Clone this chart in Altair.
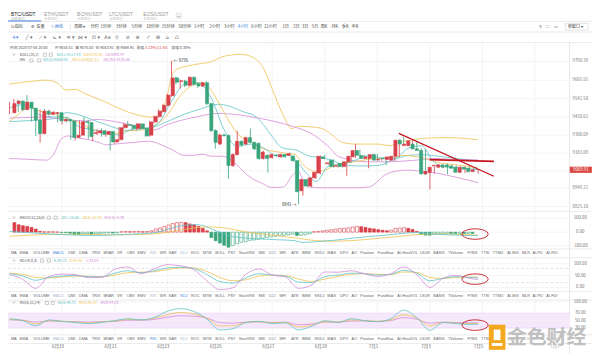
import altair as alt
import pandas as pd
import numpy as np

W, H = 592, 348
SX, SY = W / 600.0, H / 356.0
def X(x): return round(x * SX, 2)
def Y(y): return round(y * SY, 2)

RED, GREEN = "#d8404a", "#3aa57c"
TEAL, YEL, PUR = "#5cc4c8", "#efbf4f", "#d48ad8"
FONT = "Noto Sans CJK SC"

# ---------------- candles (4h, 2020-06-17 00:00 .. 2020-07-04 20:00) ----------------
OPEN = [9449,9510,9527,9470,9520,9480,9400,9310,9460,9440,9444,9450,9395,9405,9395,9285,9300,9390,9385,9312,
        9315,9330,9305,9325,9255,9270,9350,9370,9365,9345,9375,9345,9300,9388,9424,9456,9499,9563,9681,9658,
        9660,9632,9685,9642,9627,9649,9510,9331,9241,9302,9298,9098,9171,9259,9241,9284,9252,9246,9145,9166,
        9151,9168,9156,9171,9166,9160,9130,8930,9005,8962,9016,9048,9156,9111,9134,9093,9113,9091,9123,9156,
        9198,9166,9145,9145,9171,9136,9147,9138,9134,9160,9267,9231,9231,9241,9209,9198,9042,9053,9095,9087,
        9102,9102,9095,9087,9053,9087,9080,9058.51]
HIGH = [9520,9540,9535,9530,9567,9490,9410,9470,9475,9470,9460,9455,9410,9420,9400,9310,9400,9420,9400,9330,
        9340,9345,9335,9330,9290,9355,9380,9395,9370,9380,9380,9350,9395,9430,9473,9505,9575,9795,9690,9670,
        9668,9690,9690,9650,9655,9660,9515,9340,9310,9310,9305,9180,9330,9265,9290,9345,9258,9250,9195,9172,
        9178,9175,9178,9176,9185,9166,9135,9010,9010,9020,9058,9165,9170,9125,9140,9105,9118,9128,9165,9241,
        9205,9170,9160,9176,9176,9146,9150,9160,9165,9272,9289,9248,9268,9260,9214,9205,9065,9092,9108,9106,
        9110,9106,9100,9092,9092,9092,9085,9075.00]
LOW = [9440,9500,9455,9460,9470,9390,9295,9250,9430,9430,9435,9385,9370,9385,9270,9265,9290,9370,9275,9260,
       9300,9290,9290,9198,9245,9265,9340,9355,9335,9335,9340,9290,9290,9380,9415,9450,9490,9555,9640,9610,
       9620,9625,9630,9615,9620,9500,9320,9210,9235,9290,9010,9090,9165,9225,9235,9245,9200,9135,9138,9050,
       9145,9158,9150,9150,9160,9125,8841,8898,8955,8955,9010,9040,9140,9100,9085,9085,9085,9030,9118,9150,
       9160,9138,9080,9140,9128,9130,9100,9133,9128,9155,9236,9226,9225,9205,9190,9035,8940,9045,9085,9080,
       9040,9085,9075,9048,9048,9070,9052,9043.91]
CLOSE = [9510,9527,9470,9520,9480,9400,9310,9460,9440,9452,9450,9395,9405,9395,9285,9300,9390,9385,9290,9318,
         9330,9305,9325,9255,9270,9350,9370,9365,9345,9375,9345,9295,9388,9424,9460,9499,9567,9681,9653,9662,
         9632,9685,9638,9627,9649,9510,9331,9252,9301,9298,9098,9171,9259,9235,9284,9252,9209,9145,9188,9145,
         9171,9164,9171,9156,9177,9130,8924,9005,8962,9016,9053,9160,9145,9116,9091,9097,9091,9123,9160,9198,
         9166,9145,9156,9171,9134,9140,9143,9156,9160,9267,9241,9241,9263,9209,9198,9042,9059,9087,9100,9102,
         9087,9091,9080,9053,9087,9074,9057,9069.91]

# ---------------- overlay lines ----------------
MA5_I = [0,2,4,7,10,13,16,19,22,25,28,31,34,37,40,43,46,49,52,55,58,61,64,66,68,70,73,76,79,82,85,88,91,94,97,100,103,105,107]
MA5_V = [9480,9500,9501,9434,9422,9419,9355,9337,9314,9301,9340,9345,9382,9526,9639,9649,9551,9338,9225,9240,9216,9163,9168,
         9112,9040,8992,9098,9108,9134,9165,9149,9147,9213,9230,9119,9087,9083,9077,9069.89]
MA10_I = [0,1.9,4.1,6.3,8.6,10.8,13,15.2,17.4,19.7,21.9,24.1,26.3,28.6,30.8,33,34.1,36.3,39.3,41.5,43.7,45.9,48.1,50.4,52.6,
          54.8,57,59.3,61.5,63.7,65.1,67.1,70,72.2,74.4,76.6,78.8,81.7,84.7,87.6,89.9,92.1,94.3,97.3,99.7,104.1,107]
MA10_V = [9392,9434,9488,9467,9445,9434,9413,9392,9359,9331,9316,9310,9327,9331,9338,9360,9381,9445,9574,9627,9649,9606,9499,
          9381,9295,9263,9220,9198,9188,9177,9173,9102,9059,9070,9102,9113,9123,9138,9145,9151,9166,9160,9151,9123,9110,9095,9082.12]
MA30_I = [0,4,8,11,14,17.5,20,22,26,30,33,36,43,47.5,52.6,57,62,65.6,68.6,73,75.2,81.9,86.3,92,97.4,102,107]
MA30_V = [9413,9418,9420,9410,9400,9395,9405,9400,9380,9355,9335,9370,9424,9445,9434,9413,9381,9350,9316,9220,9156,9123,9123,
          9132,9145,9138,9135.66]
MID_I = [0,5,10.8,13,16,19,21.9,24.1,26.3,28.6,30.8,33,36,40,44,47.5,50,53,56.4,58,60,62.3,65.6,68,71,73.5,76,80,84,88,91,94,98,102,107]
MID_V = [9390,9398,9413,9450,9434,9402,9372,9349,9333,9331,9344,9355,9390,9440,9478,9505,9495,9460,9420,9370,9290,9215,9200,
         9165,9150,9135,9105,9095,9098,9140,9165,9170,9160,9145,9127.43]
UB_I = [0,4,8.5,10.8,13,15,17.4,22,26,31,33,34,35,36,37,38,40,43,46,49,53,55,58,60,62.3,64.5,66,71,73,76,79,84,87,88.6,91,94,99.7,107]
UB_V = [9640,9655,9666,9649,9600,9605,9574,9520,9466,9424,9419,9440,9480,9560,9690,9735,9756,9773,9788,9825,9838,9825,9745,
        9606,9445,9344,9359,9348,9316,9252,9241,9241,9230,9252,9263,9278,9284,9270.08]
LB_I = [0,4,8.6,10,12,13.5,15,17.5,21,22,24,28.5,32,35,37.5,39.7,42,44,46.3,48.5,50.8,53,55.2,57.4,60,62.5,64.8,66,67,68.4,72,
        78,82,86,88,91,93,95.5,98,102,107]
LB_V = [9145,9140,9134,9170,9280,9295,9284,9274,9246,9235,9241,9252,9260,9231,9198,9166,9166,9173,9160,9160,9134,9070,9016,8984,
        8952,8955,9040,9060,9000,8955,8950,8950,8955,9040,9060,9068,9063,9055,9045,9020,8983.97]

# red trend lines drawn on the chart
TREND1_I, TREND1_V = [88.9, 110.6], [9312, 9027]
TREND2_I, TREND2_V = [95.9, 110.6], [9138, 9126]

# ---------------- MACD(12,26,9) ----------------
MACD_HIST = [70,54,47,42,35,23,6,2,2,2,1,-3,-4,-8,-16,-16,-12,-10,-14,-12,-10,-7,-5,-7,-5,3,4,3,4,5,3,4,10,23,30,42,52,63,70,72,
             70,60,54,42,28,10,-40,-63,-80,-96,-110,-98,-85,-75,-70,-60,-57,-52,-45,-40,-35,-30,-25,-23,-20,-15,-25,-23,-20,-12,
             3,5,10,14,18,22,26,28,32,38,42,40,35,28,24,18,14,10,15,28,30,32,28,20,5,-15,-22,-22,-18,-14,-12,-10,-10,-11,-9,-10,-9,-9.39]
DIF_I = [0,5,10,15,20,25,30,33,36,39,42,44,46,48,50,53,57,61,65,67,70,74,78,82,86,90,93,96,100,104,107]
DIF_V = [5,-5,-15,-22,-25,-18,-12,-5,20,45,55,50,25,0,-25,-40,-50,-55,-62,-75,-70,-60,-45,-32,-22,-8,-3,-12,-20,-24,-25.68]
DEA_I = [0,5,10,15,20,25,30,33,36,39,42,45,48,51,54,58,62,66,70,74,78,82,86,90,94,98,102,107]
DEA_V = [-30,-22,-16,-15,-18,-20,-16,-12,-2,15,30,38,35,20,2,-15,-30,-45,-62,-66,-62,-52,-40,-28,-15,-12,-16,-20.79]

# ---------------- KDJ(9,3,3) and RSI(6,12,24) ----------------
OSC_I = [0,3,6,9,12,15,18,21,24,27,30,33,36,39,42,45,48,51,54,57,60,63,66,69,72,75,78,81,84,87,90,93,96,99,102,105,107]
K_V = [58,48,30,42,48,50,45,44,60,70,62,70,82,85,80,55,25,18,40,58,52,48,22,20,45,52,60,58,52,55,72,60,28,38,45,42,39.71]
D_V = [60,55,42,40,44,48,47,45,52,62,64,66,75,82,82,68,42,28,32,48,52,50,35,25,35,46,55,58,55,54,65,63,42,38,42,44,42.90]
J_V = [54,34,-4,46,56,54,41,42,76,86,58,78,96,91,76,29,-9,-2,56,78,52,44,-4,10,65,64,70,58,46,57,86,54,0,38,51,38,33.54]
RSI1_V = [55,50,36,52,48,45,42,45,50,55,52,58,75,82,75,55,25,28,45,48,42,44,25,35,50,45,55,50,47,55,78,58,24,45,42,40,40.71]
RSI2_V = [53,51,41,50,48,46,44,46,49,53,52,56,66,72,68,57,36,36,45,47,44,45,33,38,47,46,52,50,48,52,66,57,36,45,43,42,41.87]
RSI3_V = [52,51,46,49,48,47,46,47,48,51,51,53,59,63,62,57,45,43,46,47,45,46,39,41,46,46,49,49,48,50,58,54,43,46,45,44,44.03]

# ---------------- axes ----------------
PRICE_TICKS = [9790.39, 9665.55, 9542.50, 9420.62, 9300.09, 9181.09, 8949.22, 8825.10]
PRICE_GRID = [9790.39, 9665.55, 9542.50, 9420.62, 9300.09, 9181.09, 9063.0, 8949.22, 8825.10]
LAST_PRICE = 9069.91
MACD_TICKS, MACD_LABELS = [100, 0, -100], ["100.00", "0.00", "-100.00"]
KDJ_TICKS, KDJ_LABELS = [100, 50, 0], ["100.00", "50.00", "0.00"]
RSI_TICKS, RSI_LABELS = [100, 70, 50, 30], ["100.00", "70.00", "50.00", "30.00"]
DATE_TICKS = [12, 24, 36, 48, 60, 72, 84, 96, 108, 120]
DATE_LABELS = ["6月19", "6月21", "6月23", "6月25", "6月27", "6月29", "7月1", "7月3", "7月5", "7月7"]

TAB_WORDS = ["MA","EMA","VOLUME","MACD","DMI","DMA","TRIX","BRAR","VR","OBV","EMV","RSI","WR","SAR","KDJ","ROC","MTM",
             "BOLL","PSY","StochRSI","SMI","CCI","MFI","ATR","BBW","SKDJ","BIAS","DPO","AO","Position","Fundflow",
             "AI-HeatVOL","LSUR","BASIS","TVolume","FTBS","TTSI","TTMU","AI-BGI","MLR","AI-PD","AI-FDI"]
TAB_LEFT = [3,12,26,46,62,73,86,98,112,122,133,146,156,165,177,188,200,213,226,237,257,268,279,291,302,315,328,341,353,362,
            380,400,423,437,452,472,486,498,513,528,539,553]

# ---------------- scales ----------------
xs = alt.Scale(domain=[0, 100], range=[X(1.5), X(451.5)], nice=False, zero=False)
ps = alt.Scale(domain=[8825.10, 9790.39], range=[Y(203.5), Y(53)], nice=False, zero=False)
ms = alt.Scale(domain=[-100, 100], range=[Y(244.2), Y(215.8)], nice=False, zero=False)
ks = alt.Scale(domain=[0, 100], range=[Y(287.3), Y(262.7)], nice=False, zero=False)
rs = alt.Scale(domain=[0, 100], range=[Y(341.1), Y(302.4)], nice=False, zero=False)

def xe(f="i"):
    return alt.X(f + ":Q", scale=xs, axis=None)

def ye(f, sc):
    return alt.Y(f + ":Q", scale=sc, axis=None)

layers = []

def pix_text(rows, size, align="left", weight="normal", font=FONT, opacity=1.0):
    d = pd.DataFrame(rows, columns=["x", "y", "t", "c"])
    d["x"] = d["x"].map(X)
    d["y"] = d["y"].map(Y)
    return alt.Chart(d).mark_text(align=align, baseline="middle", fontSize=size, font=font,
                                  fontWeight=weight, opacity=opacity).encode(
        x=alt.X("x:Q", scale=None, axis=None), y=alt.Y("y:Q", scale=None, axis=None),
        text="t:N", color=alt.Color("c:N", scale=None))

def pix_rules(rows, color, width=0.8, dash=None):
    d = pd.DataFrame(rows, columns=["x", "y", "x2", "y2"])
    for k, f in (("x", X), ("x2", X), ("y", Y), ("y2", Y)):
        d[k] = d[k].map(f)
    kw = dict(color=color, strokeWidth=width)
    if dash:
        kw["strokeDash"] = dash
    return alt.Chart(d).mark_rule(**kw).encode(
        x=alt.X("x:Q", scale=None, axis=None), y=alt.Y("y:Q", scale=None, axis=None),
        x2="x2:Q", y2="y2:Q")

def pix_rects(rows):
    d = pd.DataFrame(rows, columns=["x", "y", "x2", "y2", "c"])
    for k, f in (("x", X), ("x2", X), ("y", Y), ("y2", Y)):
        d[k] = d[k].map(f)
    return alt.Chart(d).mark_rect().encode(
        x=alt.X("x:Q", scale=None, axis=None), y=alt.Y("y:Q", scale=None, axis=None),
        x2="x2:Q", y2="y2:Q", color=alt.Color("c:N", scale=None))

# ---------- frame lines ----------
layers.append(pix_rules([(0, 11.5, 600, 11.5), (0, 22.5, 600, 22.5), (0, 33.5, 600, 33.5),
                         (0, 208.5, 600, 208.5), (0, 247.5, 600, 247.5), (0, 256.5, 600, 256.5),
                         (0, 291.5, 600, 291.5), (0, 300.5, 600, 300.5), (0, 336.5, 600, 336.5),
                         (0, 345.5, 600, 345.5)], "#e6e6e6", 0.8))
layers.append(pix_rules([(577, 33.5, 577, 356)], "#e0e0e0", 0.8))

# ---------- grids ----------
dates_df = pd.DataFrame({"i": DATE_TICKS, "lab": DATE_LABELS})
for top, bot in ((34, 208), (209, 247), (257, 291), (301, 336)):
    layers.append(alt.Chart(dates_df).mark_rule(color="#f1f1f1", strokeWidth=0.8).encode(
        x=xe(), y=alt.value(Y(top)), y2=alt.value(Y(bot))))
layers.append(alt.Chart(pd.DataFrame({"p": PRICE_GRID})).mark_rule(color="#f1f1f1", strokeWidth=0.8).encode(
    y=ye("p", ps), x=alt.value(0), x2=alt.value(X(577))))
layers.append(alt.Chart(pd.DataFrame({"v": MACD_TICKS})).mark_rule(color="#f1f1f1", strokeWidth=0.8).encode(
    y=ye("v", ms), x=alt.value(0), x2=alt.value(X(577))))
layers.append(alt.Chart(pd.DataFrame({"v": KDJ_TICKS})).mark_rule(color="#f1f1f1", strokeWidth=0.8).encode(
    y=ye("v", ks), x=alt.value(0), x2=alt.value(X(577))))
layers.append(alt.Chart(pd.DataFrame({"v": [80, 20]})).mark_rule(color="#d6d6d6", strokeWidth=0.7, strokeDash=[3, 2]).encode(
    y=ye("v", ks), x=alt.value(0), x2=alt.value(X(577))))
# RSI band 30-70
layers.append(alt.Chart(pd.DataFrame({"a": [70], "b": [30]})).mark_rect(color="#f5e8fc").encode(
    y=ye("a", rs), y2="b:Q", x=alt.value(0), x2=alt.value(X(577))))
layers.append(alt.Chart(pd.DataFrame({"v": [70, 30]})).mark_rule(color="#ead2f5", strokeWidth=0.7).encode(
    y=ye("v", rs), x=alt.value(0), x2=alt.value(X(577))))
layers.append(alt.Chart(pd.DataFrame({"v": [100, 50]})).mark_rule(color="#f1f1f1", strokeWidth=0.8).encode(
    y=ye("v", rs), x=alt.value(0), x2=alt.value(X(577))))

# ---------- price panel ----------
def line_layer(I, V, color, sc, width=0.8):
    d = pd.DataFrame({"i": I, "v": V})
    return alt.Chart(d).mark_line(color=color, strokeWidth=width, interpolate="monotone").encode(
        x=xe(), y=ye("v", sc))

layers.append(line_layer(UB_I, UB_V, YEL, ps))
layers.append(line_layer(LB_I, LB_V, PUR, ps))
layers.append(line_layer(MID_I, MID_V, TEAL, ps))
layers.append(line_layer(MA30_I, MA30_V, PUR, ps))
layers.append(line_layer(MA10_I, MA10_V, YEL, ps))
layers.append(line_layer(MA5_I, MA5_V, TEAL, ps))

cd = pd.DataFrame({"i": range(len(CLOSE)), "o": OPEN, "h": HIGH, "l": LOW, "c": CLOSE})
cd["col"] = np.where(cd["c"] >= cd["o"], RED, GREEN)
layers.append(alt.Chart(cd).mark_rule(strokeWidth=0.8).encode(
    x=xe(), y=ye("l", ps), y2="h:Q", color=alt.Color("col:N", scale=None)))
layers.append(alt.Chart(cd).mark_bar(width=3.2, strokeWidth=0.6).encode(
    x=xe(), y=ye("o", ps), y2="c:Q", color=alt.Color("col:N", scale=None),
    stroke=alt.Stroke("col:N", scale=None)))

# trend lines
layers.append(alt.Chart(pd.DataFrame({"i": TREND1_I, "v": TREND1_V})).mark_line(color="#c3161f", strokeWidth=1.3).encode(
    x=xe(), y=ye("v", ps)))
layers.append(alt.Chart(pd.DataFrame({"i": TREND2_I, "v": TREND2_V})).mark_line(color="#c3161f", strokeWidth=1.8).encode(
    x=xe(), y=ye("v", ps)))

# extreme labels
layers.append(alt.Chart(pd.DataFrame({"i": [37], "v": [9795], "t": ["← 9795"]})).mark_text(
    align="left", baseline="middle", fontSize=4.3, dx=2, color="#333", font=FONT).encode(
    x=xe(), y=ye("v", ps), text="t:N"))
layers.append(alt.Chart(pd.DataFrame({"i": [66], "v": [8841], "t": ["8841 →"]})).mark_text(
    align="right", baseline="middle", fontSize=4.3, dx=-2, dy=1, color="#333", font=FONT).encode(
    x=xe(), y=ye("v", ps), text="t:N"))

# price axis labels
layers.append(alt.Chart(pd.DataFrame({"p": PRICE_TICKS, "t": [f"{p:.2f}" for p in PRICE_TICKS]})).mark_text(
    align="center", baseline="middle", fontSize=4.4, color="#777", font=FONT).encode(
    x=alt.value(X(588)), y=ye("p", ps), text="t:N"))
layers.append(alt.Chart(pd.DataFrame({"p": [LAST_PRICE]})).mark_point(
    shape="M -1 -0.28 L 1 -0.28 L 1 0.28 L -1 0.28 Z", filled=True, opacity=1, color="#d9453f", size=500).encode(
    x=alt.value(X(588.5)), y=ye("p", ps)))
layers.append(alt.Chart(pd.DataFrame({"p": [LAST_PRICE], "t": [f"{LAST_PRICE:.2f}"]})).mark_text(
    align="center", baseline="middle", fontSize=4.4, color="white", font=FONT).encode(
    x=alt.value(X(588.5)), y=ye("p", ps), text="t:N"))

# ---------- MACD panel ----------
md = pd.DataFrame({"i": range(len(MACD_HIST)), "v": MACD_HIST})
prev = md["v"].shift(1).fillna(md["v"])
md["col"] = np.where(md["v"] >= 0, RED, GREEN)
md["fill"] = np.where(md["v"] > prev, "white", md["col"])
md["z"] = 0
layers.append(alt.Chart(md).mark_bar(width=3.0, strokeWidth=0.6).encode(
    x=xe(), y=ye("z", ms), y2="v:Q", fill=alt.Fill("fill:N", scale=None), stroke=alt.Stroke("col:N", scale=None)))
layers.append(line_layer(DEA_I, DEA_V, YEL, ms))
layers.append(line_layer(DIF_I, DIF_V, TEAL, ms))
layers.append(alt.Chart(pd.DataFrame({"v": MACD_TICKS, "t": MACD_LABELS})).mark_text(
    align="center", baseline="middle", fontSize=4.4, color="#777", font=FONT).encode(
    x=alt.value(X(588)), y=ye("v", ms), text="t:N"))

# ---------- KDJ panel ----------
layers.append(line_layer(OSC_I, D_V, YEL, ks))
layers.append(line_layer(OSC_I, K_V, TEAL, ks))
layers.append(line_layer(OSC_I, J_V, PUR, ks))
layers.append(alt.Chart(pd.DataFrame({"v": KDJ_TICKS, "t": KDJ_LABELS})).mark_text(
    align="center", baseline="middle", fontSize=4.4, color="#777", font=FONT).encode(
    x=alt.value(X(588)), y=ye("v", ks), text="t:N"))

# ---------- RSI panel ----------
layers.append(line_layer(OSC_I, RSI3_V, PUR, rs))
layers.append(line_layer(OSC_I, RSI2_V, YEL, rs))
layers.append(line_layer(OSC_I, RSI1_V, TEAL, rs))
layers.append(alt.Chart(pd.DataFrame({"v": RSI_TICKS, "t": RSI_LABELS})).mark_text(
    align="center", baseline="middle", fontSize=4.4, color="#777", font=FONT).encode(
    x=alt.value(X(588)), y=ye("v", rs), text="t:N"))

# ---------- red ellipses ----------
ELL = "M -1 0 A 1 0.4 0 1 1 1 0 A 1 0.4 0 1 1 -1 0 Z"
for v, sc in ((-14, ms), (35, ks), (38, rs)):
    layers.append(alt.Chart(pd.DataFrame({"i": [106.3], "v": [v]})).mark_point(
        shape=ELL, filled=False, color="#c3161f", strokeWidth=0.9, size=700, opacity=1).encode(
        x=xe(), y=ye("v", sc)))

# ---------- dates ----------
layers.append(alt.Chart(dates_df[dates_df["i"] < 110]).mark_text(
    align="center", baseline="middle", fontSize=4.6, color="#666", font=FONT, dx=-4).encode(
    x=xe(), y=alt.value(Y(349.5)), text="lab:N"))
layers.append(alt.Chart(dates_df[dates_df["i"] > 110]).mark_text(
    align="center", baseline="middle", fontSize=4.6, color="#666", font=FONT, dx=20, opacity=0.6).encode(
    x=xe(), y=alt.value(Y(349.5)), text="lab:N"))

# ---------- indicator tab rows ----------
for ry, hi in ((252, "MACD"), (296, "KDJ"), (341, "RSI")):
    rows = []
    for w, lx in zip(TAB_WORDS, TAB_LEFT):
        if lx > 490:
            continue
        if w == hi:
            c = "#3d7fd6"
        elif w in ("MACD", "KDJ", "RSI"):
            c = "#a9b8cc"
        else:
            c = "#666666"
        rows.append((lx, ry, w, c))
    layers.append(pix_text(rows, 3.9, font="Liberation Sans"))
    rest = [(lx, ry, w, "#666666") for w, lx in zip(TAB_WORDS, TAB_LEFT) if lx > 490]
    layers.append(pix_text(rest, 3.9, font="Liberation Sans", opacity=0.55 if ry == 341 else 1.0))

# ---------- panel headers ----------
hdr = [
    (2, 39, "时间 2020-07-04 20:00", "#555"), (48, 39, "开 9058.51", "#555"),
    (69, 39, "高 9075.00", "#555"), (90, 39, "低 9043.91", "#555"), (111, 39, "收 9069.91", "#555"),
    (132, 39, "涨幅", "#555"), (141, 39, "0.13%(11.60)", "#d8404a"), (168, 39, "振幅 0.34%", "#555"),
    (4, 46, "∨", "#888"), (12, 46, "BOLL(20,2)", "#555"), (50, 46, "BOLL:9127.43", TEAL),
    (77, 46, "UB:9270.08", YEL), (100, 46, "LB:8983.97", PUR),
    (12, 52, "MA", "#555"), (36, 52, "MA(5):9069.89", TEAL), (66, 52, "MA(10):9082.12", YEL),
    (98, 52, "MA(30):9135.66", PUR),
    (4, 215, "∨", "#888"), (12, 215, "MACD(12,26,9)", "#555"), (55, 215, "DIF:-25.68", TEAL),
    (77, 215, "DEA:-20.79", YEL), (99, 215, "MACD:-9.39", PUR),
    (4, 259.5, "∨", "#888"), (12, 259.5, "KDJ(9,3,3)", "#555"), (47, 259.5, "K:39.71", TEAL),
    (63, 259.5, "D:42.90", YEL), (80, 259.5, "J:33.54", PUR),
    (4, 303.5, "∨", "#888"), (12, 303.5, "RSI(6,12,24)", "#555"), (51, 303.5, "RSI1:40.71", TEAL),
    (73, 303.5, "RSI2:41.87", YEL), (95, 303.5, "RSI3:44.03", PUR),
]
layers.append(pix_text(hdr, 3.8))
boxes = [(36, 46), (42, 46), (22, 52), (30, 52), (40, 215), (47, 215), (33, 259.5), (40, 259.5), (38, 303.5), (44, 303.5)]
bd = pd.DataFrame({"x": [X(b[0] + 2) for b in boxes], "y": [Y(b[1]) for b in boxes]})
layers.append(alt.Chart(bd).mark_point(shape="square", filled=False, color="#aaa", strokeWidth=0.6, size=10, opacity=1).encode(
    x=alt.X("x:Q", scale=None, axis=None), y=alt.Y("y:Q", scale=None, axis=None)))

# ---------- top tabs & toolbar ----------
tabs = [(3, 4, "BTC/USDT", "#222"), (37, 4, "ETH/USDT", "#999"), (71, 4, "BCH/USDT", "#999"),
        (104, 4, "LTC/USDT", "#999"), (139, 4, "EOS/USDT", "#999")]
layers.append(pix_text(tabs, 5.0, font="Liberation Sans"))
subs = [(3, 8.8, "永续合约", "#aaa"), (37, 8.8, "永续合约", "#bbb"), (71, 8.8, "永续合约", "#bbb"),
        (104, 8.8, "永续合约", "#bbb"), (139, 8.8, "永续合约", "#bbb")]
layers.append(pix_text(subs, 3.5))
layers.append(pix_text([(175.5, 5.5, "+", "#999")], 5.5, align="center"))
layers.append(pix_rules([(173, 3, 178, 3), (173, 8, 178, 8), (173, 3, 173, 8), (178, 3, 178, 8)], "#ccc", 0.6))
layers.append(pix_rules([(0, 11, 34, 11)], "#3d7fd6", 1.0))

tb = [(3, 17, "⊡ 指标", "#444"), (24, 17, "⚙ 设置", "#444"), (44, 17, "✎ 画线", "#3d7fd6"),
      (68, 17, "周期 ▾", "#444"), (85, 17, "分时", "#444"), (95, 17, "1分钟", "#444"), (111, 17, "3分钟", "#444"),
      (127, 17, "5分钟", "#444"), (142, 17, "10分钟", "#444"), (158, 17, "15分钟", "#444"), (175, 17, "30分钟", "#444"),
      (191, 17, "1小时", "#444"), (207, 17, "2小时", "#444"), (222, 17, "3小时", "#444"), (236, 17, "4小时", "#3d7fd6"),
      (250, 17, "6小时", "#444"), (263, 17, "12小时", "#444"), (282, 17, "1日", "#444"), (293, 17, "2日", "#444"),
      (302, 17, "3日", "#444"), (312, 17, "5日", "#444"), (321, 17, "周K", "#444"), (332, 17, "月K", "#444"),
      (343, 17, "季K", "#444"), (353, 17, "年K", "#444"),
      (546, 17, "⚲", "#666"), (553, 17, "⛶", "#666"), (561, 17, "▭", "#666"), (575, 17, "单窗口 ▾", "#444")]
layers.append(pix_text(tb, 4.2))
layers.append(pix_rules([(572.5, 13.5, 596, 13.5), (572.5, 20.5, 596, 20.5), (572.5, 13.5, 572.5, 20.5),
                         (596, 13.5, 596, 20.5), (64, 14, 64, 20)], "#d0d0d0", 0.6))
icons = [(4, 28, "✛▾", "#3d7fd6"), (18, 28, "╱ ▾", "#666"), (32, 28, "⟋ ▾", "#666"), (46, 28, "⊾ ▾", "#666"),
         (60, 28, "≡ ▾", "#666"), (72, 28, "⋈ ▾", "#666"), (86, 28, "⊡ ▾", "#666"), (99, 28, "Aa", "#666"),
         (110, 28, "⚲", "#666"), (121, 28, "⊘", "#666"), (131, 28, "⊗", "#666"), (142, 28, "✐", "#666"),
         (152, 28, "⊞", "#666"), (162, 28, "⌂", "#666"), (171, 28, "♺", "#666")]
layers.append(pix_text(icons, 5.0, font="DejaVu Sans"))

# ---------- watermark (over the bottom-right corner, as in the screenshot) ----------
layers.append(pix_rects([(494, 326, 511, 352, "#f4a81d"), (499, 331, 506, 342, "#ffffff"), (497, 345, 508, 348, "#ffffff")]))
layers.append(pix_text([(513, 340, "金色财经", "#bdbdbd")], 20, weight="bold", opacity=0.95))

chart = alt.layer(*layers).resolve_scale(
    x="independent", y="independent", color="independent", fill="independent", stroke="independent"
).properties(
    width=W, height=H, padding=0, background="white",
    autosize=alt.AutoSizeParams(type="none")
).configure_view(stroke=None)

chart.save("out.html", embed_options={"renderer": "svg", "actions": False})
